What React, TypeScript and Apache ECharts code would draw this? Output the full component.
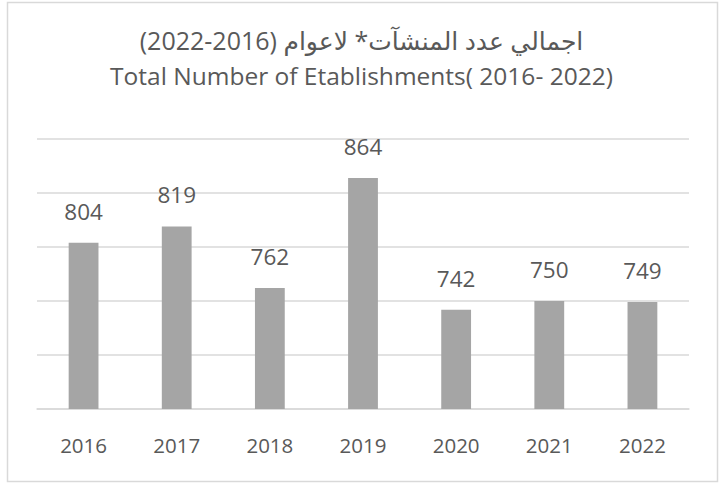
import React, { useEffect, useRef } from "react";
import * as echarts from "echarts";

const years = ["2016", "2017", "2018", "2019", "2020", "2021", "2022"];
const establishments = [804, 819, 762, 864, 742, 750, 749];
const titleArabic = "اجمالي عدد المنشآت* لاعوام (2016-2022)";
const titleEnglish = "Total Number of Etablishments( 2016- 2022)";

const FONT = "'Open Sans', 'DejaVu Sans', sans-serif";
const TEXT = "#595959";

export default function App() {
  const ref = useRef<HTMLDivElement>(null);
  useEffect(() => {
    if (!ref.current) return;
    const chart = echarts.init(ref.current, null, { renderer: "svg" });
    chart.setOption({
      animation: false,
      backgroundColor: "#ffffff",
      title: [
        {
          text: titleArabic,
          left: "center",
          top: 22,
          textStyle: { fontFamily: FONT, fontSize: 25, fontWeight: "normal", color: TEXT },
        },
        {
          text: titleEnglish,
          left: "center",
          top: 58,
          textStyle: { fontFamily: FONT, fontSize: 24.5, fontWeight: "normal", color: TEXT },
        },
      ],
      graphic: [
        {
          type: "rect",
          shape: { x: 7.5, y: 2.5, width: 710, height: 479 },
          style: { fill: "none", stroke: "#d9d9d9", lineWidth: 1.5 },
          silent: true,
        },
      ],
      grid: { left: 37, right: 34, top: 139, bottom: 76 },
      xAxis: {
        type: "category",
        data: years,
        axisLine: { show: true, lineStyle: { color: "#d9d9d9", width: 1.5 } },
        axisTick: { show: false },
        axisLabel: { fontFamily: FONT, fontSize: 20.5, color: TEXT, margin: 25 },
      },
      yAxis: {
        type: "value",
        min: 650,
        max: 900,
        interval: 50,
        axisLine: { show: false },
        axisTick: { show: false },
        axisLabel: { show: false },
        splitLine: { lineStyle: { color: "#d9d9d9", width: 1.5 } },
      },
      series: [
        {
          type: "bar",
          data: establishments,
          barWidth: "32%",
          itemStyle: { color: "#a5a5a5" },
          label: {
            show: true,
            position: "top",
            distance: 20,
            fontFamily: FONT,
            fontSize: 22.5,
            color: TEXT,
          },
        },
      ],
    });
    return () => chart.dispose();
  }, []);
  return (
    <div
      ref={ref}
      style={{ position: "fixed", left: 0, top: 0, width: 723, height: 485 }}
    />
  );
}
